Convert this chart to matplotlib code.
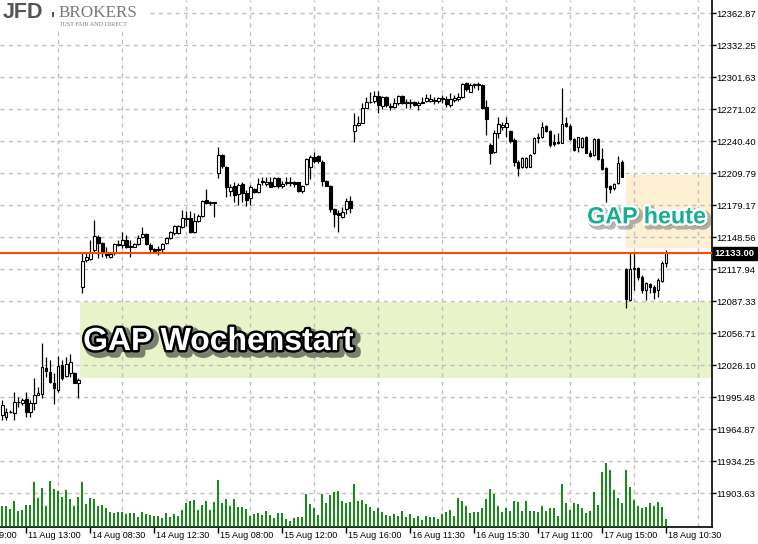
import numpy as np
import matplotlib
matplotlib.use("Agg")
import matplotlib.pyplot as plt
import matplotlib.patheffects as pe
from matplotlib.patches import Rectangle

# ---------------- data (M15 candles) ----------------
opens = [
11978.3, 11976.7, 11981.5, 11979.9, 11990.8, 11989.5, 11993.4, 11981.5, 11989.5, 11997.5,
11998.4, 12023.0, 12019.8, 12009.2, 12002.3, 12026.2, 12015.7, 12018.8, 12018.8, 12009.2,
12101.1, 12126.7, 12127.4, 12136.3, 12149.0, 12143.3, 12134.6, 12129.9, 12133.1, 12140.8,
12141.1, 12145.8, 12140.1, 12139.4, 12141.7, 12148.4, 12151.3, 12141.1, 12137.0, 12136.3,
12137.0, 12142.7, 12147.5, 12152.8, 12152.3, 12158.0, 12167.2, 12167.2, 12153.8, 12164.3,
12168.8, 12184.1, 12181.0, 12181.6, 12209.7, 12227.2, 12216.0, 12192.8, 12197.5, 12189.9,
12199.5, 12190.5, 12185.8, 12194.4, 12192.1, 12201.7, 12199.2, 12201.1, 12197.5, 12204.9,
12197.5, 12200.1, 12200.1, 12201.1, 12201.1, 12193.0, 12199.2, 12216.0, 12225.6, 12226.3,
12220.8, 12202.6, 12197.5, 12175.2, 12172.0, 12168.1, 12175.2, 12183.2, 12250.5, 12255.9,
12258.1, 12271.9, 12277.7, 12279.2, 12283.7, 12274.1, 12282.5, 12274.1, 12272.9, 12276.7,
12283.7, 12277.7, 12276.7, 12277.7, 12275.1, 12277.7, 12278.9, 12279.2, 12279.9, 12279.2,
12281.5, 12280.8, 12275.1, 12279.9, 12280.5, 12282.5, 12296.4, 12287.8, 12294.2, 12294.2,
12294.2, 12273.5, 12236.8, 12230.4, 12248.0, 12254.3, 12253.7, 12250.5, 12241.6, 12220.8,
12215.4, 12215.4, 12216.0, 12228.8, 12243.2, 12244.2, 12255.0, 12250.2, 12240.0, 12240.0,
12239.0, 12258.1, 12255.0, 12242.5, 12234.6, 12234.6, 12244.2, 12229.4, 12227.2, 12242.3,
12223.1, 12214.5, 12197.5, 12195.3, 12200.1, 12220.8, 12117.8, 12088.4, 12117.8, 12118.8,
12110.1, 12098.0, 12103.7, 12101.1, 12098.0, 12106.9, 12123.5]

highs = [
11992.7, 11984.7, 11983.1, 12000.6, 11995.9, 11994.3, 12000.6, 11992.7, 12013.5, 12005.4,
12046.9, 12034.1, 12031.0, 12018.2, 12034.8, 12031.0, 12034.1, 12036.4, 12019.8, 12013.5,
12133.4, 12133.1, 12145.8, 12165.0, 12150.6, 12144.2, 12139.4, 12133.1, 12142.7, 12145.8,
12153.8, 12150.6, 12145.8, 12142.7, 12150.6, 12158.0, 12152.3, 12142.7, 12137.9, 12140.1,
12142.7, 12149.0, 12154.8, 12160.2, 12160.2, 12174.6, 12173.9, 12173.9, 12171.4, 12170.7,
12184.1, 12194.4, 12183.5, 12182.5, 12235.2, 12228.2, 12216.7, 12199.5, 12201.7, 12200.1,
12201.7, 12193.7, 12198.5, 12195.6, 12204.9, 12206.4, 12205.9, 12206.4, 12205.9, 12206.4,
12202.6, 12205.9, 12205.9, 12202.6, 12201.7, 12198.5, 12224.1, 12227.2, 12230.4, 12227.2,
12222.4, 12203.3, 12198.5, 12176.2, 12174.6, 12177.7, 12185.8, 12188.0, 12267.1, 12264.6,
12277.3, 12282.5, 12287.8, 12288.8, 12288.8, 12283.7, 12283.7, 12277.3, 12281.5, 12284.7,
12284.7, 12280.5, 12280.5, 12278.9, 12278.9, 12282.5, 12285.3, 12285.6, 12283.0, 12282.5,
12284.7, 12283.7, 12286.3, 12284.7, 12286.9, 12296.4, 12297.4, 12295.9, 12295.9, 12297.4,
12295.2, 12279.9, 12238.4, 12251.2, 12263.3, 12259.1, 12263.9, 12251.2, 12243.2, 12222.4,
12225.0, 12225.3, 12228.2, 12244.7, 12248.0, 12259.1, 12255.9, 12251.2, 12247.3, 12248.6,
12291.1, 12263.9, 12256.9, 12243.2, 12244.7, 12244.7, 12245.4, 12232.0, 12243.2, 12243.2,
12233.6, 12215.4, 12198.5, 12200.7, 12226.3, 12222.4, 12118.7, 12133.7, 12133.7, 12120.3,
12112.3, 12105.9, 12105.0, 12102.8, 12109.2, 12126.0, 12136.3]

lows = [
11973.5, 11973.5, 11980.2, 11973.5, 11986.3, 11987.9, 11976.7, 11976.7, 11983.1, 11997.0,
11994.3, 12015.0, 12008.7, 11988.8, 12000.6, 12011.8, 12015.0, 12015.0, 12008.7, 11994.9,
12094.8, 12125.1, 12126.7, 12134.6, 12128.3, 12129.9, 12128.3, 12128.3, 12131.5, 12140.1,
12137.9, 12137.9, 12129.9, 12138.9, 12141.1, 12147.5, 12141.1, 12134.6, 12133.1, 12131.5,
12134.6, 12142.0, 12146.5, 12150.6, 12151.6, 12157.0, 12159.2, 12152.3, 12152.8, 12163.4,
12168.1, 12180.3, 12179.4, 12168.1, 12204.9, 12214.5, 12186.7, 12188.0, 12182.5, 12179.4,
12182.5, 12178.7, 12179.4, 12190.5, 12191.1, 12198.5, 12197.5, 12196.3, 12196.9, 12195.3,
12195.3, 12198.5, 12197.5, 12196.3, 12192.1, 12190.5, 12198.5, 12204.0, 12219.3, 12219.3,
12197.5, 12197.5, 12172.9, 12158.6, 12153.8, 12167.0, 12170.7, 12171.4, 12240.0, 12255.0,
12257.6, 12271.9, 12276.7, 12276.7, 12267.7, 12271.0, 12273.5, 12270.3, 12271.9, 12275.1,
12276.0, 12271.9, 12271.9, 12274.1, 12270.3, 12276.7, 12278.2, 12278.2, 12275.8, 12276.7,
12276.7, 12273.5, 12273.5, 12278.2, 12278.9, 12281.5, 12288.8, 12287.2, 12291.1, 12289.4,
12271.0, 12246.4, 12218.3, 12229.4, 12243.8, 12251.2, 12244.7, 12239.0, 12216.7, 12207.1,
12214.5, 12214.8, 12215.4, 12227.9, 12239.0, 12243.2, 12249.5, 12235.2, 12235.8, 12237.7,
12238.4, 12254.3, 12241.6, 12231.3, 12230.4, 12233.6, 12228.8, 12225.0, 12226.3, 12222.4,
12212.9, 12182.5, 12191.1, 12193.7, 12199.5, 12205.9, 12080.5, 12087.7, 12098.0, 12107.6,
12094.8, 12088.4, 12094.8, 12089.1, 12091.6, 12105.9, 12120.3]

closes = [
11987.9, 11981.5, 11981.0, 11991.1, 11991.1, 11992.7, 11981.5, 11989.5, 11997.5, 11999.1,
12024.6, 12020.7, 12010.2, 12003.9, 12025.2, 12013.5, 12027.0, 12029.4, 12009.2, 12011.8,
12126.0, 12129.3, 12134.6, 12149.7, 12142.7, 12134.6, 12131.5, 12132.2, 12141.7, 12141.7,
12145.8, 12139.4, 12138.9, 12141.7, 12148.1, 12151.3, 12142.0, 12137.0, 12135.3, 12137.5,
12141.7, 12148.1, 12153.8, 12159.2, 12159.2, 12166.6, 12166.2, 12153.8, 12164.0, 12168.8,
12183.2, 12181.0, 12182.2, 12182.2, 12227.2, 12216.7, 12196.9, 12196.6, 12188.9, 12198.5,
12190.5, 12184.1, 12196.6, 12192.1, 12199.2, 12202.0, 12201.1, 12196.9, 12204.9, 12197.5,
12199.2, 12201.1, 12201.1, 12199.5, 12193.0, 12197.5, 12223.1, 12225.6, 12221.5, 12221.5,
12202.6, 12197.5, 12175.2, 12170.7, 12169.8, 12172.9, 12183.2, 12176.8, 12255.9, 12258.1,
12271.9, 12277.7, 12278.2, 12283.7, 12275.1, 12283.0, 12275.1, 12273.2, 12276.7, 12283.7,
12276.7, 12276.7, 12278.2, 12275.1, 12277.3, 12277.3, 12281.5, 12280.8, 12278.9, 12281.5,
12280.8, 12275.8, 12280.5, 12282.1, 12282.5, 12294.9, 12290.1, 12294.2, 12294.9, 12294.9,
12272.5, 12261.7, 12229.4, 12248.6, 12256.6, 12255.9, 12257.6, 12240.6, 12220.8, 12214.5,
12224.1, 12224.1, 12227.2, 12243.2, 12244.2, 12253.7, 12250.5, 12236.8, 12237.7, 12239.0,
12256.9, 12255.0, 12242.3, 12232.0, 12244.2, 12243.8, 12229.4, 12226.3, 12242.3, 12223.1,
12213.5, 12196.9, 12194.4, 12199.5, 12219.3, 12206.4, 12089.1, 12117.8, 12119.0, 12110.1,
12098.0, 12105.0, 12100.6, 12096.4, 12107.6, 12124.1, 12133.0]

volumes = [
64, 64, 55, 79, 49, 52, 67, 67, 134, 87,
118, 64, 139, 115, 109, 91, 112, 85, 64, 91,
136, 70, 88, 85, 64, 67, 58, 46, 43, 46,
46, 40, 43, 43, 31, 46, 40, 37, 34, 34,
28, 43, 31, 40, 34, 52, 73, 79, 82, 52,
67, 79, 52, 76, 142, 73, 85, 64, 85, 61,
61, 55, 34, 40, 43, 37, 49, 37, 28, 43,
43, 25, 19, 28, 31, 31, 100, 70, 58, 37,
100, 73, 97, 106, 109, 79, 73, 76, 130, 79,
82, 70, 61, 49, 58, 46, 37, 34, 40, 34,
49, 31, 40, 28, 34, 22, 34, 31, 31, 25,
40, 46, 52, 34, 88, 79, 64, 43, 46, 46,
58, 85, 115, 100, 64, 46, 58, 49, 79, 76,
49, 79, 49, 49, 46, 64, 49, 58, 58, 34,
130, 73, 52, 73, 70, 58, 43, 49, 106, 67,
166, 193, 172, 112, 88, 73, 172, 121, 82, 64,
58, 61, 73, 64, 76, 61, 25]

price_ticks = [12362.87, 12332.25, 12301.63, 12271.02, 12240.40, 12209.79, 12179.17,
               12148.56, 12117.94, 12087.33, 12056.71, 12026.10, 11995.48, 11964.87,
               11934.25, 11903.63]
price_tick_labels = ["12362.87", "12332.25", "12301.63", "12271.02", "12240.40", "12209.79",
                     "12179.17", "12148.56", "12117.94", "12087.33", "12056.71", "12026.10",
                     "11995.48", "11964.87", "11934.25", "11903.63"]

time_label_bars = [-10, 6, 22, 38, 54, 70, 86, 102, 118, 134, 150, 166]
time_labels = ["11 Aug 09:00", "11 Aug 13:00", "14 Aug 08:30", "14 Aug 12:30",
               "15 Aug 08:00", "15 Aug 12:00", "15 Aug 16:00", "16 Aug 11:30",
               "16 Aug 15:30", "17 Aug 11:00", "17 Aug 15:00", "18 Aug 10:30"]

current_price = 12133.00
gap_week = (19.4, 12013.7, 12086.5)     # start bar, low, high
gap_today = (155.9, 12138.2, 12208.1)

# ---------------- figure ----------------
W, H = 758, 544
fig = plt.figure(figsize=(W / 100, H / 100), dpi=100)
fig.patch.set_facecolor("white")
rect = [0, 17 / H, 712 / W, 527 / H]
ax = fig.add_axes(rect)
xmin, xmax = -0.575, 177.425
ax.set_xlim(xmin, xmax)
ax.set_ylim(11871.1, 12375.6)

font = "Liberation Sans"
grid_col = "#c0c0c0"
dash = (0, (3, 3))

# rectangles (background objects)
ax.add_patch(Rectangle((gap_week[0], gap_week[1]), xmax - gap_week[0], gap_week[2] - gap_week[1],
                       facecolor="#e9f3c9", edgecolor="none", zorder=0.2))
ax.add_patch(Rectangle((gap_today[0], gap_today[1]), xmax - gap_today[0], gap_today[2] - gap_today[1],
                       facecolor="#fcefd2", edgecolor="none", zorder=0.2))

# grid
ax.set_axisbelow(True)
ax.set_yticks(price_ticks)
ax.set_yticklabels(price_tick_labels)
ax.yaxis.grid(True, color=grid_col, linestyle=dash, linewidth=1)
n = len(opens)
idx = np.arange(n)
grid_bars = np.arange(time_label_bars[1], xmax, 8)
ax.set_xticks(grid_bars, minor=True)
ax.xaxis.grid(True, which="minor", color=grid_col, linestyle=dash, linewidth=1)
ax.set_xticks(time_label_bars[1:])
ax.set_xticklabels([""] * len(time_label_bars[1:]))
ax.tick_params(axis="x", which="minor", length=0)
ax.tick_params(axis="x", which="major", length=4, width=1, color="black", direction="out")

ax.yaxis.tick_right()
ax.tick_params(axis="y", length=3, width=1, pad=0.3, labelsize=6.8, colors="black")
for lbl in ax.get_yticklabels():
    lbl.set_fontfamily(font)

for s in ["top", "left"]:
    ax.spines[s].set_visible(False)
for s in ["right", "bottom"]:
    ax.spines[s].set_color("black")
    ax.spines[s].set_linewidth(1.2)

for b, t in zip(time_label_bars, time_labels):
    ax.annotate(t, xy=(b, 0), xycoords=("data", "axes fraction"), xytext=(1.3, -3),
                textcoords="offset points", ha="left", va="top", fontsize=6.5,
                family=font, annotation_clip=False)

# candles
o = np.array(opens); c = np.array(closes); h = np.array(highs); l = np.array(lows)
ax.vlines(idx, l, h, color="black", linewidth=0.9, zorder=3)
bull = c >= o
bottoms = np.minimum(o, c)
heights = np.maximum(np.abs(c - o), 0.01)
ax.bar(idx, heights, bottom=bottoms, width=0.6,
       color=np.where(bull, "white", "black"), edgecolor="black", linewidth=0.8, zorder=4)

# current price line
ax.axhline(current_price, color="#ff4a00", linewidth=1.5, zorder=5)
ax.annotate(f"{current_price:.2f}", xy=(1, current_price), xycoords=("axes fraction", "data"),
            xytext=(2.0, 0), textcoords="offset points", ha="left", va="center",
            fontsize=6.8, family=font, fontweight="bold", color="white",
            bbox=dict(boxstyle="square,pad=0.2", facecolor="black", edgecolor="black"),
            annotation_clip=False, zorder=6)

# volume overlay
axv = fig.add_axes(rect, facecolor="none")
axv.set_xlim(xmin, xmax)
axv.set_ylim(0, 527 * 3)
axv.axis("off")
axv.vlines(idx, 0, volumes, color="#008000", linewidth=1.3)

# annotations
ax.text(20.2, 12040.5, "GAP Wochenstart", family=font, fontweight="bold", fontsize=23,
        color="white", ha="left", va="baseline", zorder=10,
        path_effects=[pe.Stroke(linewidth=6, foreground="#202020", alpha=0.55, offset=(2.5, -2.5)),
                      pe.Stroke(linewidth=3.5, foreground="black"), pe.Normal()])
ax.text(146.2, 12161.8, "GAP heute", family=font, fontweight="bold", fontsize=16.8,
        color="#17ae93", ha="left", va="baseline", zorder=10,
        path_effects=[pe.Stroke(linewidth=5, foreground="#606060", alpha=0.45, offset=(2, -2)),
                      pe.Stroke(linewidth=3.5, foreground="white"), pe.Normal()])

# logo
fig.patches.append(Rectangle((0, 1 - 30 / H), 147 / W, 30 / H, transform=fig.transFigure,
                             facecolor="white", edgecolor="none", zorder=5))
fig.text(3 / W, 1 - 18.5 / H, "JFD", family=font, fontweight="bold", fontsize=15.5,
         color="#555555", ha="left", va="baseline", zorder=6)
fig.patches.append(Rectangle((51.5 / W, 1 - 17 / H), 2 / W, 5 / H, transform=fig.transFigure,
                             facecolor="#555555", edgecolor="none", zorder=6))
fig.text(59 / W, 1 - 17 / H, "BROKERS", family="Liberation Serif", fontsize=12.3,
         color="#7a7a7a", ha="left", va="baseline", zorder=6)
fig.text(59.5 / W, 1 - 25.5 / H, "JUST FAIR AND DIRECT", family="Liberation Serif", fontsize=4.4,
         color="#7a7a7a", ha="left", va="baseline", zorder=6)

fig.savefig("out.png", dpi=100)
